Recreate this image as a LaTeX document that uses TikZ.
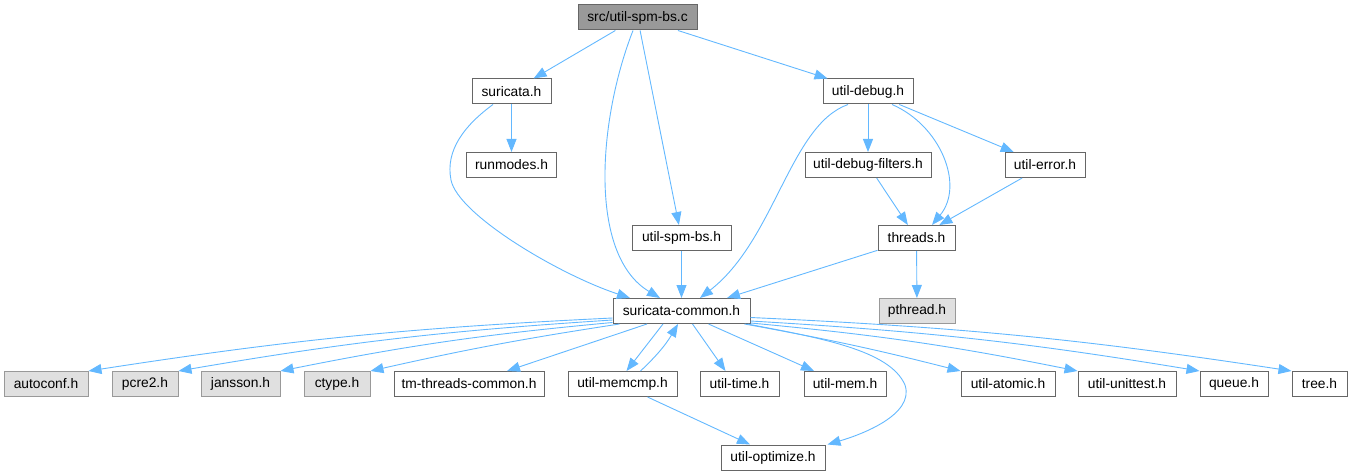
\documentclass[tikz,border=0pt]{standalone}
\usepackage{fontspec}
\setmainfont{Liberation Sans}
\usetikzlibrary{arrows.meta}
\definecolor{edgecol}{HTML}{63B8FF}
\definecolor{boxborder}{HTML}{666666}
\definecolor{extborder}{HTML}{999999}
\definecolor{extfill}{HTML}{E0E0E0}
\definecolor{rootfill}{HTML}{999999}
\definecolor{rootborder}{HTML}{666666}
\tikzset{
  box/.style={draw=boxborder, fill=white, line width=1pt, minimum height=25pt,
    inner sep=0pt, font=\fontsize{13.8}{15}\selectfont},
  ext/.style={box, draw=extborder, fill=extfill},
  root/.style={box, draw=rootborder, fill=rootfill},
  dep/.style={draw=edgecol, line width=0.9pt, -{Triangle[length=13pt,width=10pt]}},
}
\begin{document}
\begin{tikzpicture}[x=1pt,y=-1pt]
\useasboundingbox (0,0) rectangle (1353,476);
% nodes
\node[root,minimum width=119pt] (src) at (637.5,17.5) {src/util-spm-bs.c};
\node[box,minimum width=79pt] (suricata) at (511.5,91.5) {suricata.h};
\node[box,minimum width=90pt] (runmodes) at (511.5,165) {runmodes.h};
\node[box,minimum width=90pt] (debug) at (868,91.5) {util-debug.h};
\node[box,minimum width=126pt] (filters) at (868,165) {util-debug-filters.h};
\node[box,minimum width=80pt] (error) at (1045,165) {util-error.h};
\node[box,minimum width=99pt] (spmbs) at (681.5,238) {util-spm-bs.h};
\node[box,minimum width=77pt] (threads) at (916.5,238) {threads.h};
\node[box,minimum width=137pt] (common) at (681.5,311) {suricata-common.h};
\node[ext,minimum width=76pt] (pthread) at (917,311) {pthread.h};
\node[ext,minimum width=84pt] (autoconf) at (46,384) {autoconf.h};
\node[ext,minimum width=66pt] (pcre) at (145,384) {pcre2.h};
\node[ext,minimum width=79pt] (jansson) at (240.5,384) {jansson.h};
\node[ext,minimum width=66pt] (ctype) at (337,384) {ctype.h};
\node[box,minimum width=150pt] (tm) at (469,384) {tm-threads-common.h};
\node[box,minimum width=109pt] (memcmp) at (622.5,384) {util-memcmp.h};
\node[box,minimum width=79pt] (utime) at (739.5,384) {util-time.h};
\node[box,minimum width=82pt] (umem) at (845,384) {util-mem.h};
\node[box,minimum width=94pt] (atomic) at (1008,384) {util-atomic.h};
\node[box,minimum width=98pt] (unittest) at (1127,384) {util-unittest.h};
\node[box,minimum width=68pt] (queue) at (1234,384) {queue.h};
\node[box,minimum width=55pt] (tree) at (1319.5,384) {tree.h};
\node[box,minimum width=104pt] (optimize) at (773,457.5) {util-optimize.h};
% edges from src
\draw[dep] (src) -- (suricata);
\draw[dep] (src) -- (debug);
\draw[dep] (src) -- (spmbs);
\draw[dep] ([xshift=-4.5pt]src.south) .. controls (598,120) and (588,255) .. ([xshift=-21.5pt]common.north);
% suricata.h
\draw[dep] (suricata) -- (runmodes);
\draw[dep] ([xshift=-18.5pt]suricata.south) .. controls (465,125) and (445,150) .. (451,180)
   .. controls (458,215) and (560,275) .. ([xshift=-51.5pt]common.north);
% util-debug.h
\draw[dep] (debug) -- (filters);
\draw[dep] (debug) -- (error);
\draw[dep] ([xshift=24pt]debug.south) .. controls (940,125) and (965,185) .. ([xshift=15.5pt]threads.north);
\draw[dep] ([xshift=-20pt]debug.south) .. controls (790,125) and (775,240) .. ([xshift=18.5pt]common.north);
\draw[dep] (filters) -- (threads);
\draw[dep] (error) -- (threads);
% threads.h
\draw[dep] (threads) -- ([xshift=45.5pt]common.north);
\draw[dep] (threads) -- (pthread);
\draw[dep] (spmbs) -- (common);
% suricata-common.h fan
\draw[dep] ([yshift=6pt]common.south west) to[bend right=3] (autoconf.north east);
\draw[dep] ([yshift=4pt]common.south west) to[bend right=3] (pcre.north east);
\draw[dep] ([yshift=1.5pt]common.south west) to[bend right=3] (jansson.north east);
\draw[dep] ([xshift=7pt]common.south west) to[bend right=2] (ctype.north east);
\draw[dep] ([xshift=-34.5pt]common.south) -- ([xshift=38pt]tm.north);
\draw[dep] ([xshift=-18.5pt]common.south) -- ([xshift=4pt]memcmp.north);
\draw[dep] ([xshift=18pt]memcmp.north) to[bend right=8] ([xshift=-3.5pt]common.south);
\draw[dep] ([xshift=11pt]common.south) -- ([xshift=-14pt]utime.north);
\draw[dep] ([xshift=27pt]common.south) -- ([xshift=-31pt]umem.north);
\draw[dep] ([xshift=-6pt]common.south east) to[bend left=2] (atomic.north west);
\draw[dep] ([yshift=1pt]common.south east) to[bend left=3] (unittest.north west);
\draw[dep] ([yshift=3pt]common.south east) to[bend left=3] (queue.north west);
\draw[dep] ([yshift=6.5pt]common.south east) to[bend left=3] (tree.north west);
\draw[dep] ([xshift=-3pt]common.south east) .. controls (820,338) and (890,350) .. (905,385)
   .. controls (915,415) and (860,435) .. ([xshift=2pt]optimize.north east);
\draw[dep] ([xshift=25pt]memcmp.south) -- ([xshift=-23pt]optimize.north);
\end{tikzpicture}
\end{document}
